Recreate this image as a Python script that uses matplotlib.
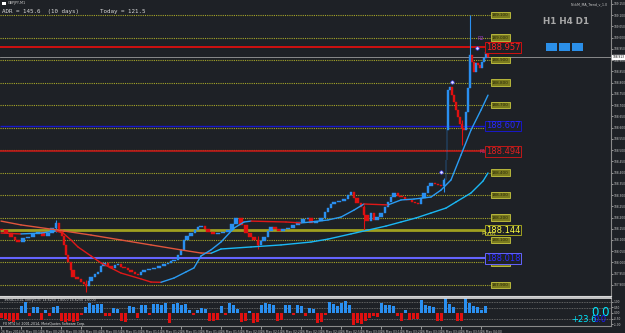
import numpy as np
import matplotlib
matplotlib.use("Agg")
import matplotlib.pyplot as plt
from matplotlib.patches import Rectangle

BG = "#1e2126"
UP = "#2a8ff0"
DOWN = "#e01010"

# M1 bars (minute from left edge, close price)
bar_min = [0, 2.5, 5, 7, 8.5, 11, 13.5, 16, 18.5, 21, 23.5, 25.5, 27.5, 29, 30.5,
           31.5, 32.5, 33.5, 35, 36, 38, 40, 41.5, 42.5, 44, 45, 47, 48.5, 50, 51.5,
           53.5, 55, 57, 58.5, 60, 61.5, 63.5, 65, 67, 68.5, 70, 71.5, 74, 76.5, 79,
           81.5, 83.5, 85, 86.5, 88.5, 90, 91.5, 93, 95, 97, 98.5, 100, 102, 103.5,
           106, 108.5, 111, 113.5, 115.5, 117.5, 120, 122.5, 124.5, 126.5, 128.5,
           130, 131.5, 133.5, 135, 137, 139, 141, 143.5, 146, 148.5, 151, 153.5,
           155, 157.5, 160, 162, 163.5, 165, 166.5, 169, 171.5, 173.5, 175, 176.5,
           178, 180, 181.5, 183, 185, 186.5, 188, 190, 192, 193.5, 195, 196.5,
           198.5, 200, 202, 203.5, 205.5, 207, 208.5, 210, 211.5, 213.5, 215, 217,
           218.5, 220, 221.5, 222.5, 223, 223.5, 224.5, 225.5, 226.5, 227.5, 228.5,
           229.5, 230.5, 231.5, 232.5, 233.5, 234.5, 235.5, 236.5, 237.5, 238.5,
           239.5, 240.5, 241.5, 242.5, 243.5]
bar_close = [188.144, 188.131, 188.113, 188.100, 188.091, 188.109, 188.113, 188.127,
             188.136, 188.118, 188.131, 188.153, 188.176, 188.144, 188.118, 188.078,
             188.033, 188.002, 187.967, 187.936, 187.927, 187.913, 187.904, 187.896,
             187.918, 187.936, 187.949, 187.958, 187.984, 187.998, 187.984, 187.975,
             187.989, 187.993, 187.980, 187.975, 187.967, 187.958, 187.949, 187.944,
             187.958, 187.967, 187.971, 187.975, 187.984, 187.993, 187.998, 188.007,
             188.011, 188.033, 188.056, 188.100, 188.118, 188.131, 188.144, 188.158,
             188.162, 188.149, 188.136, 188.127, 188.131, 188.136, 188.144, 188.171,
             188.198, 188.167, 188.131, 188.113, 188.100, 188.078, 188.096, 188.113,
             188.140, 188.158, 188.149, 188.140, 188.149, 188.153, 188.167, 188.180,
             188.193, 188.198, 188.176, 188.184, 188.198, 188.224, 188.242, 188.260,
             188.269, 188.273, 188.282, 188.300, 188.313, 188.287, 188.264, 188.247,
             188.211, 188.184, 188.220, 188.189, 188.202, 188.220, 188.247, 188.269,
             188.291, 188.309, 188.296, 188.291, 188.282, 188.278, 188.269, 188.264,
             188.260, 188.287, 188.309, 188.340, 188.353, 188.349, 188.344, 188.340,
             188.367, 188.456, 188.589, 188.767, 188.780, 188.744, 188.713, 188.678,
             188.647, 188.616, 188.598, 188.589, 188.669, 188.776, 188.922, 188.891,
             188.847, 188.887, 188.878, 188.864, 188.891, 188.909, 188.936, 188.913]

# a few long wicks
wick_min = [27.5, 42.5, 128.5, 181.5, 221.5, 230.5, 234.5]
wick_low = [188.136, 187.869, 188.060, 188.144, 188.313, 188.522, 188.811]
wick_high = [188.189, 187.922, 188.118, 188.256, 188.376, 188.633, 189.100]

# signal dots
signal_min = [220, 225.5, 238]
signal_price = [188.402, 188.802, 188.953]

# moving averages
fast_min = [0, 10, 20, 27.5, 31, 35, 38.5, 45, 50, 60, 70, 75, 80, 86.5, 92.5, 96.5,
            100, 105, 110, 116.5, 121.5, 125, 133.5, 142.5, 150, 155, 163.5, 170,
            176.5, 181.5, 187.5, 193.5, 200, 206.5, 215, 220, 225, 230, 235, 240, 243.5]
fast_ma = [188.131, 188.127, 188.131, 188.140, 188.131, 188.100, 188.069, 188.029,
           187.998, 187.953, 187.927, 187.913, 187.912, 187.931, 187.958, 187.976,
           188.029, 188.056, 188.091, 188.153, 188.180, 188.184, 188.182, 188.180,
           188.176, 188.180, 188.189, 188.202, 188.233, 188.260, 188.258, 188.256,
           188.278, 188.282, 188.291, 188.322, 188.367, 188.478, 188.589, 188.678,
           188.744]
slow_min = [0, 10, 28.5, 45, 60, 75, 90, 100, 105, 110, 125, 140, 155, 163.5, 175,
            183.5, 192.5, 200, 207.5, 215, 222.5, 227.5, 235, 241, 243.5]
slow_ma = [188.184, 188.167, 188.144, 188.122, 188.100, 188.078, 188.056, 188.042,
           188.041, 188.060, 188.069, 188.078, 188.091, 188.104, 188.127, 188.144,
           188.162, 188.180, 188.198, 188.220, 188.242, 188.269, 188.309, 188.362,
           188.398]

# round-number levels
level_prices = [187.9, 188.0, 188.1, 188.2, 188.3, 188.4, 188.5, 188.6, 188.7,
                188.8, 188.9, 189.0, 189.1]

# drawn lines: price, colour, width, label colour
key_prices = [188.957, 188.607, 188.494, 188.144, 188.018]
key_colors = ["#d01010", "#1818c8", "#c01818", "#a0a020", "#6464ff"]
key_text = ["#ff2020", "#2828ff", "#e02020", "#ffff40", "#2a2aff"]
key_width = [1.4, 1.0, 1.2, 2.0, 1.5]
bid = 188.913

# TrendCCI histogram, every 2 minutes
hist_min = list(range(0, 244, 2))
hist_val = [-0.45, -0.5, -0.7, -0.8, -0.6, 0.6, 1.0, -0.3, 0.55, 0.5, -0.6, 0.3, -0.3,
            0.55, 0.65, -0.7, -0.8, -0.75, -0.85, -0.7, -0.2, 0.5, 0.9, 0.7, 0.85, 0.8,
            -0.3, -0.25, 0.45, 0.4, -0.75, -0.8, 0.6, 0.5, -0.45, 0.7, 0.75, -0.2, 0.8,
            0.85, 0.7, 0.9, -0.9, 0.85, 0.9, 0.7, 0.8, 0.3, -0.2, 0.3, 0.45, 0.4, -0.75,
            -0.7, -0.6, 0.6, -0.2, 0.9, 0.75, 0.4, -0.8, -0.75, 0.2, -0.9, -0.8, 0.7,
            0.9, 0.85, 0.75, -0.75, -0.6, 0.7, 0.75, -0.2, 0.7, 0.65, -0.3, 0.45, 0.4,
            -0.9, -0.8, -0.2, 1.0, 0.8, 0.6, 0.9, 1.05, 0.7, -1.05, -0.9, -1.0, -0.7,
            -0.45, -0.3, -0.4, 0.9, 0.75, 0.7, 0.6, -0.3, -0.75, 0.25, -0.6, -0.55,
            -0.5, 1.2, 0.7, 0.6, 0.5, -0.7, -0.75, 1.35, 0.8, 0.5, -0.75, -0.7, 1.35,
            0.9, 0.6, 0.5, 0.3, 0.6]

time_ticks = list(range(0, 250, 10))
time_labels = ["26 May 2014"] + ["26 May %02d:%02d" % (m // 60, m % 60) for m in time_ticks[1:]]


def px(x, y):
    return x / 625, 1 - y / 333


fig = plt.figure(figsize=(6.25, 3.33), dpi=100, facecolor=BG)
ax = fig.add_axes([0, 1 - 296 / 333, 611 / 625, 296 / 333])
ax2 = fig.add_axes([0, 1 - 326 / 333, 611 / 625, 28 / 333], sharex=ax)
for a in (ax, ax2):
    a.set_facecolor(BG)
    for s in ("left", "top", "bottom", "right"):
        a.spines[s].set_color("#8a8a8a")
        a.spines[s].set_linewidth(0.8)
    a.spines["left"].set_visible(False)

# main pane
ax.set_xlim(-0.5, 305)
ax.set_ylim(187.851, 189.167)
ax.hlines(level_prices, -0.5, 245, colors="#a8a828", linestyles=(0, (1, 1)), lw=0.8, zorder=1)
for p in level_prices:
    ax.text(245.5, p, "%.3f" % p, fontsize=3, color="#26260a", va="center", ha="left",
            zorder=6, bbox=dict(boxstyle="square,pad=0.3", fc="#7a7a1e", ec="#c8c840", lw=0.6))

ax.axhline(bid, color="#9a9a9a", lw=0.6, zorder=2)
for p, c, tc, w in zip(key_prices, key_colors, key_text, key_width):
    ax.hlines(p, -0.5, 244, colors=c, lw=w, zorder=2)
    ax.text(242.5, p, "%.3f" % p, fontsize=6, color=tc, va="center", ha="left", zorder=7,
            bbox=dict(boxstyle="square,pad=0.1", fc=BG, ec=c, lw=0.7))
ax.text(238, 188.995, "R2", fontsize=3.5, color="#9a3ac8", ha="left", va="center", zorder=7)
ax.text(239, 188.494, "R1", fontsize=3.5, color="#c8287a", ha="left", va="center", zorder=7)
ax.text(240, 188.127, "Pivot", fontsize=4.2, color="#e0e040", ha="left", va="center", zorder=7)

# bars
opens = [bar_close[0] + 0.002] + bar_close[:-1]
gaps = list(np.diff(bar_min)) + [1.0]
for m, o, c, g in zip(bar_min, opens, bar_close, gaps):
    col = UP if c >= o else DOWN
    lo, hi = min(o, c), max(o, c)
    if hi - lo < 0.004:
        hi = lo + 0.004
    ax.add_patch(Rectangle((m - g * 0.4, lo), g * 0.8, hi - lo, fc=col, ec=col, lw=0.3, zorder=3))
for m, lo, hi in zip(wick_min, wick_low, wick_high):
    i = int(np.argmin(np.abs(np.array(bar_min) - m)))
    ax.vlines(m, lo, hi, colors=UP if bar_close[i] >= opens[i] else DOWN, lw=0.8, zorder=3)


def ma_line(xs, ys, up, down):
    for i in range(len(xs) - 1):
        col = up if ys[i + 1] >= ys[i] else down
        ax.plot(xs[i:i + 2], ys[i:i + 2], color=col, lw=1.0, zorder=4,
                solid_capstyle="round")


ma_line(slow_min, slow_ma, "#1ab8f5", "#e0553c")
ma_line(fast_min, fast_ma, "#2a9cf4", "#e01818")
ax.plot(signal_min, signal_price, "o", ms=2.4, mfc="#e6e6ff", mec="#3a3aff", mew=0.5, zorder=5)

ax.yaxis.tick_right()
ax.set_yticks(np.arange(187.9, 189.16, 0.05))
ax.yaxis.set_major_formatter(matplotlib.ticker.FormatStrFormatter("%.3f"))
ax.tick_params(axis="y", labelsize=2.1, colors="#c8c8c8", length=1.2, width=0.5, pad=0.6)
ax.tick_params(axis="x", bottom=False, labelbottom=False)
ax.spines["bottom"].set_color("#d8d8d8")
ax.spines["top"].set_visible(False)
ax.annotate("%.3f" % bid, xy=(1.003, bid), xycoords=("axes fraction", "data"),
            fontsize=2.1, color="black", va="center", ha="left", annotation_clip=False,
            bbox=dict(boxstyle="square,pad=0.12", fc="white", ec="white"))

# sub pane
ax2.set_ylim(-1.18, 1.36)
ax2.bar(hist_min, hist_val, width=1.5, color=[UP if v > 0 else DOWN for v in hist_val], zorder=2)
ax2.hlines([1.0, 0.45, -0.55], -0.5, 305, colors="#777777", linestyles=(0, (1, 1)), lw=0.6, zorder=1)
ax2.yaxis.tick_right()
ax2.set_yticks([1.0, 0.5, 0.0, -0.5, -1.0])
ax2.yaxis.set_major_formatter(matplotlib.ticker.FormatStrFormatter("%.2f"))
ax2.tick_params(axis="y", labelsize=2.1, colors="#c8c8c8", length=1.2, width=0.5, pad=0.6)
ax2.set_xticks(time_ticks)
ax2.set_xticklabels(time_labels, ha="left")
ax2.tick_params(axis="x", labelsize=2.2, colors="#c8c8c8", length=2, width=0.5, pad=0.6)
ax2.spines["top"].set_color("#e0e0e0")
ax2.spines["top"].set_linewidth(1.2)

# texts
fig.add_artist(Rectangle(px(2, 5), 4 / 625, 3 / 333, transform=fig.transFigure, fc="white", ec="none"))
fig.text(*px(8, 3), "GBPJPY,M1", fontsize=2.4, color="#d0d0d0", va="center")
fig.text(*px(2, 11), "ADR = 145.6  (10 days)      Today = 121.5", fontsize=4.2,
         family="DejaVu Sans Mono", color="#d8d8d8", va="center")
fig.text(*px(571, 4), "NickM_MA_Trend_v_1.0", fontsize=2.3, color="#c8c8c8", va="center")
fig.text(*px(543, 22), "H1 H4 D1", fontsize=6.3, fontweight="bold", color="#a8a8a8", va="center")
for x0 in (546, 559, 572):
    fig.add_artist(Rectangle(px(x0, 51), 11 / 625, 8 / 333, transform=fig.transFigure,
                             fc="#2b8fe8", ec="none"))
fig.text(*px(4, 300), "TrendCCI(14, Entry(13)) 14.6250 1.8000 16.6250 1.6000", fontsize=2.3,
         color="#d0d0d0", va="center")
fig.text(*px(3, 324), "FX MT4 (c) 2001-2014, MetaQuotes Software Corp.", fontsize=2.3,
         color="#e0e0e0", va="center")
fig.text(*px(591, 312), "0.0", fontsize=8.5, color="#00e8ff", va="center")
fig.text(*px(571, 319.5), "+23.6", fontsize=6, color="#00e8ff", va="center")
fig.text(*px(593, 319.5), "0.0", fontsize=6, color="#1a1aff", va="center")

fig.savefig("out.png", dpi=100, facecolor=BG)
